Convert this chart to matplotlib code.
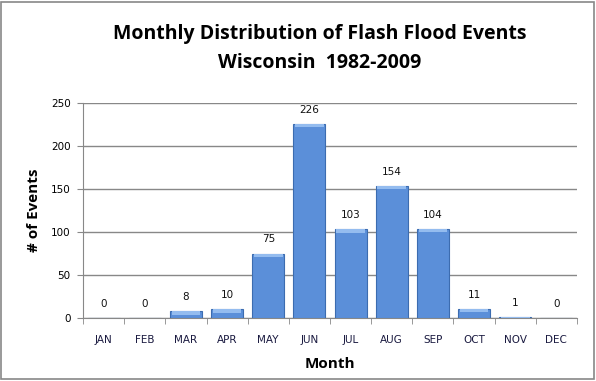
import matplotlib
matplotlib.use("Agg")
import matplotlib.pyplot as plt
import numpy as np

months = ["JAN", "FEB", "MAR", "APR", "MAY", "JUN", "JUL", "AUG", "SEP", "OCT", "NOV", "DEC"]
events = [0, 0, 8, 10, 75, 226, 103, 154, 104, 11, 1, 0]
yticks = [0, 50, 100, 150, 200, 250]

fig = plt.figure(figsize=(5.96, 3.81), dpi=100)
ax = fig.add_axes([83/596, 1-318/381, (577-83)/596, (318-103)/381])

x = np.arange(len(months))
ax.bar(x, events, width=0.78, color="#5b8fd9", edgecolor="#3c6cb0", linewidth=0.8, zorder=3)
# lighter top bevel
ax.bar(x, [min(v, 4) for v in events], bottom=[max(v - 4, 0) for v in events], width=0.70,
       color="#94bcef", linewidth=0, zorder=4)

for xi, v in zip(x, events):
    ax.annotate(str(v), (xi, v), xytext=(0, 6.5), textcoords="offset points",
                ha="center", va="bottom", fontsize=7.5, color="#111111", family="DejaVu Sans")

ax.set_xlim(-0.5, 11.5)
ax.set_ylim(0, 250)
ax.set_yticks(yticks)
ax.set_yticklabels([str(t) for t in yticks], fontsize=7.5, family="DejaVu Sans")
ax.set_xticks(x)
ax.set_xticklabels(months, fontsize=7.5, family="DejaVu Sans", color="#1a1a40")
ax.set_xticks(np.arange(-0.5, 12, 1), minor=True)
ax.tick_params(axis="x", which="major", length=0, pad=12)
ax.tick_params(axis="x", which="minor", length=4, color="#888888", direction="out")
ax.tick_params(axis="y", length=4, color="#888888", direction="out", pad=5)
ax.grid(axis="y", color="#888888", linewidth=1.0, zorder=0)
for s in ["top", "right"]:
    ax.spines[s].set_visible(False)
for s in ["left", "bottom"]:
    ax.spines[s].set_color("#888888")
ax.set_axisbelow(True)

ax.set_ylabel("# of Events", fontsize=11, fontweight="bold", family="Open Sans", labelpad=7)
ax.set_xlabel("Month", fontsize=11, fontweight="bold", family="Open Sans", labelpad=9)

fig.text(320/596, 1-34/381, "Monthly Distribution of Flash Flood Events", ha="center", va="center",
         fontsize=14, fontweight="bold", family="Open Sans")
fig.text(320/596, 1-63/381, "Wisconsin  1982-2009", ha="center", va="center",
         fontsize=14, fontweight="bold", family="Open Sans")

border = plt.Rectangle((0.002, 0.004), 0.994, 0.992, transform=fig.transFigure,
                       fill=False, edgecolor="#888888", linewidth=1.2)
fig.patches.append(border)

fig.savefig("out.png", dpi=100)
